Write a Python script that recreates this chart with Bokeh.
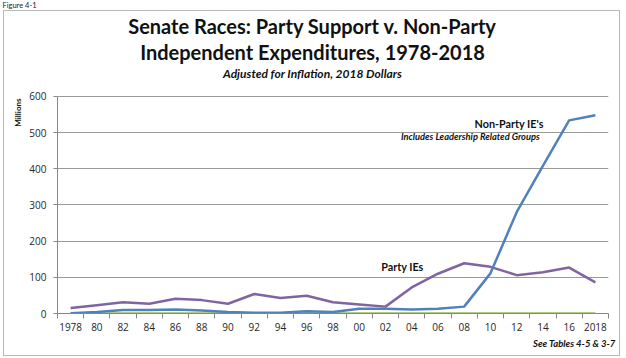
from bokeh.plotting import figure
from bokeh.models import Label, FixedTicker, Range1d, Title, InlineStyleSheet
from bokeh.embed import file_html
from bokeh.resources import INLINE

years = [1978, 1980, 1982, 1984, 1986, 1988, 1990, 1992, 1994, 1996, 1998,
         2000, 2002, 2004, 2006, 2008, 2010, 2012, 2014, 2016, 2018]
tick_labels = ["1978", "80", "82", "84", "86", "88", "90", "92", "94", "96", "98",
               "00", "02", "04", "06", "08", "10", "12", "14", "16", "2018"]
party_ies = [15, 23, 31, 27, 41, 37, 27, 54, 43, 49, 31,
             25, 19, 72, 110, 139, 129, 106, 114, 127, 86]
non_party_ies = [1, 4, 10, 10, 11, 8, 4, 2, 2, 6, 4,
                 13, 13, 11, 13, 19, 111, 280, 408, 534, 548]
other_series = [0.3, 0.3, 0.3, 0.3, 0.3, 0.3, 0.3, 0.3, 0.3, 0.3, 0.3,
                0.3, 0.3, 0.3, 0.3, 0.3, 0.3, 0.3, 0.3, 0.3, 0.3]
y_ticks = [0, 100, 200, 300, 400, 500, 600]

W, H = 626, 358
# the frame starts just under the small caption; the y range is extended so that
# 600 lands where the reference plot area begins, leaving room for the titles
Y_TOP = 835.0

css = InlineStyleSheet(css=""":host { position: relative; }
:host::after { content: ""; position: absolute; left: 3px; top: 10px; width: 615px; height: 344px;
  border: 1px solid #b8b8b8; pointer-events: none; }""")

p = figure(width=W, height=H, output_backend="svg", toolbar_location=None, title=None,
           x_range=Range1d(1977, 2019), y_range=Range1d(0, Y_TOP),
           min_border_left=57, min_border_right=18, min_border_top=0, min_border_bottom=45)
p.stylesheets = [css]
p.outline_line_color = None
p.background_fill_color = "white"
p.border_fill_color = "white"

p.line(years, other_series, line_color="#9BBB59", line_width=2.2)
p.line(years, party_ies, line_color="#8064A2", line_width=2.5)
p.line(years, non_party_ies, line_color="#4F81BD", line_width=2.5)

xa = p.xaxis[0]
xa.ticker = FixedTicker(ticks=years, minor_ticks=[y - 1 for y in years] + [2019])
xa.major_label_overrides = {y: t for y, t in zip(years, tick_labels)}
xa.major_tick_out = 0
xa.major_tick_in = 0
xa.minor_tick_out = 5
xa.minor_tick_in = 0
xa.minor_tick_line_color = "#868686"
xa.axis_line_color = "#868686"
xa.major_label_standoff = 4
xa.major_label_text_font = "Open Sans"
xa.major_label_text_font_size = "10px"
xa.major_label_text_color = "#262626"

ya = p.yaxis[0]
ya.ticker = FixedTicker(ticks=y_ticks)
ya.bounds = (0, 600)
ya.major_tick_out = 4
ya.major_tick_in = 0
ya.minor_tick_out = 0
ya.minor_tick_in = 0
ya.major_tick_line_color = "#868686"
ya.axis_line_color = "#868686"
ya.major_label_standoff = 7
ya.major_label_text_font = "Open Sans"
ya.major_label_text_font_size = "10px"
ya.major_label_text_color = "#262626"

p.xgrid.grid_line_color = None
p.ygrid.grid_line_color = "#999999"
p.ygrid.grid_line_width = 1

p.add_layout(Title(text="Figure 4-1", text_font="Lato", text_font_size="7.5px", text_font_style="normal",
                   align="left", offset=-55, standoff=0, vertical_align="top",
                   text_color="#222222"), "above")
p.add_layout(Title(text="Millions", text_font="Lato", text_font_size="8px", text_font_style="bold",
                   align="right", offset=87, standoff=8, text_color="#111111"), "left")
p.add_layout(Title(text="See Tables 4-5 & 3-7", text_font="Lato", text_font_size="9.5px",
                   text_font_style="bold italic", align="right", offset=-7, standoff=8,
                   vertical_align="top", text_color="#111111"), "below")

TX = 1996.44


def lab(text, x, y, size, style="bold", align="center"):
    p.add_layout(Label(x=x, y=y, text=text, text_font="Lato", text_font_size=size,
                       text_font_style=style, text_align=align, text_baseline="middle",
                       text_color="#111111"))


lab("Senate Races: Party Support v. Non-Party", TX, 793.6, "20px")
lab("Independent Expenditures, 1978-2018", TX, 721.7, "20px")
lab("Adjusted for Inflation, 2018 Dollars", TX, 663.6, "12px", style="bold italic")

lab("Non-Party IE's", 2014.06, 524, "10.8px", align="right")
lab("Includes Leadership Related Groups", 2013.76, 489.4, "9.3px", style="bold italic", align="right")
lab("Party IEs", 2001.67, 130, "10.8px", align="left")

open("out.html", "w").write(file_html(p, INLINE))
